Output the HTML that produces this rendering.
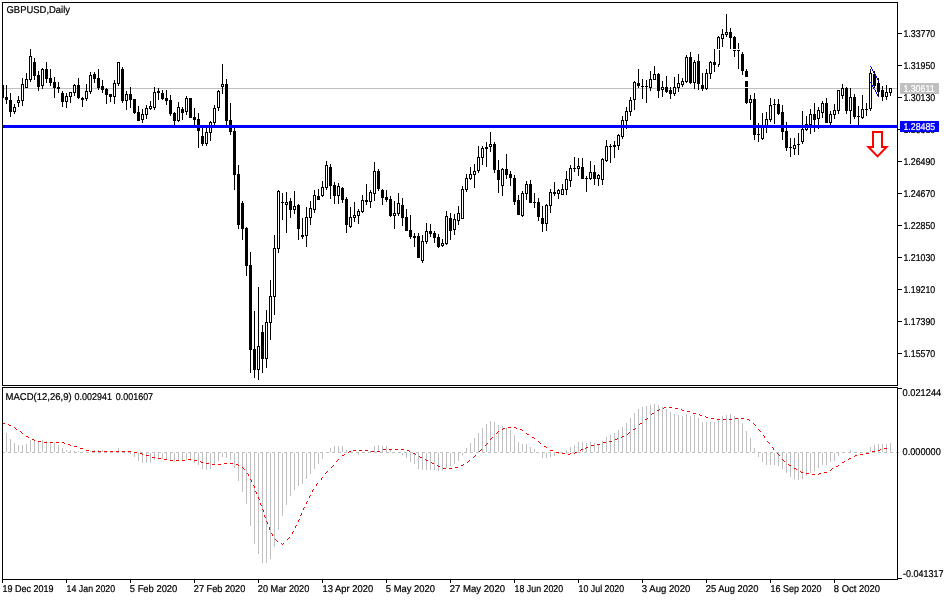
<!DOCTYPE html>
<html><head><meta charset="utf-8"><title>GBPUSD,Daily</title>
<style>
html,body{margin:0;padding:0;background:#fff;}
body{width:950px;height:600px;overflow:hidden;position:relative;font-family:"Liberation Sans",sans-serif;}
svg{position:absolute;left:0;top:0;display:block}
text{font-family:"Liberation Sans",sans-serif;font-size:9.9px;fill:#000;stroke:#000;stroke-width:0.22px;text-rendering:geometricPrecision}
</style></head><body>
<svg width="950" height="600" viewBox="0 0 950 600" shape-rendering="crispEdges">
<rect x="0" y="0" width="950" height="600" fill="#fff"/>
<rect x="3" y="88" width="894" height="1" fill="#c0c0c0"/><defs><clipPath id="cp"><rect x="3" y="3" width="894" height="382"/></clipPath></defs><g id="candles" clip-path="url(#cp)"><rect x="2" y="85" width="1" height="13" fill="#000"/><rect x="1" y="85" width="3" height="13" fill="#000"/><rect x="6" y="85" width="1" height="19" fill="#000"/><rect x="5" y="97" width="3" height="3" fill="#000"/><rect x="10" y="93" width="1" height="24" fill="#000"/><rect x="9" y="100" width="3" height="12" fill="#000"/><rect x="14" y="104" width="1" height="10" fill="#000"/><rect x="13" y="107" width="3" height="5" fill="#000"/><rect x="14" y="108" width="1" height="3" fill="#fff"/><rect x="18" y="96" width="1" height="11" fill="#000"/><rect x="17" y="100" width="3" height="3" fill="#000"/><rect x="18" y="101" width="1" height="1" fill="#fff"/><rect x="22" y="78" width="1" height="28" fill="#000"/><rect x="21" y="84" width="3" height="17" fill="#000"/><rect x="22" y="85" width="1" height="15" fill="#fff"/><rect x="26" y="73" width="1" height="15" fill="#000"/><rect x="25" y="79" width="3" height="9" fill="#000"/><rect x="26" y="80" width="1" height="7" fill="#fff"/><rect x="30" y="49" width="1" height="33" fill="#000"/><rect x="29" y="56" width="3" height="24" fill="#000"/><rect x="30" y="57" width="1" height="22" fill="#fff"/><rect x="34" y="58" width="1" height="22" fill="#000"/><rect x="33" y="62" width="3" height="14" fill="#000"/><rect x="38" y="71" width="1" height="20" fill="#000"/><rect x="37" y="75" width="3" height="12" fill="#000"/><rect x="42" y="68" width="1" height="21" fill="#000"/><rect x="41" y="69" width="3" height="17" fill="#000"/><rect x="42" y="70" width="1" height="15" fill="#fff"/><rect x="46" y="62" width="1" height="21" fill="#000"/><rect x="45" y="69" width="3" height="10" fill="#000"/><rect x="50" y="69" width="1" height="17" fill="#000"/><rect x="49" y="78" width="3" height="5" fill="#000"/><rect x="54" y="77" width="1" height="21" fill="#000"/><rect x="53" y="82" width="3" height="6" fill="#000"/><rect x="58" y="82" width="1" height="11" fill="#000"/><rect x="57" y="87" width="3" height="2" fill="#000"/><rect x="62" y="91" width="1" height="16" fill="#000"/><rect x="61" y="93" width="3" height="9" fill="#000"/><rect x="66" y="93" width="1" height="15" fill="#000"/><rect x="65" y="96" width="3" height="6" fill="#000"/><rect x="66" y="97" width="1" height="4" fill="#fff"/><rect x="70" y="92" width="1" height="11" fill="#000"/><rect x="69" y="92" width="3" height="5" fill="#000"/><rect x="70" y="93" width="1" height="3" fill="#fff"/><rect x="74" y="84" width="1" height="12" fill="#000"/><rect x="73" y="85" width="3" height="8" fill="#000"/><rect x="74" y="86" width="1" height="6" fill="#fff"/><rect x="78" y="78" width="1" height="21" fill="#000"/><rect x="77" y="85" width="3" height="13" fill="#000"/><rect x="82" y="97" width="1" height="10" fill="#000"/><rect x="81" y="98" width="3" height="2" fill="#000"/><rect x="86" y="84" width="1" height="17" fill="#000"/><rect x="85" y="91" width="3" height="8" fill="#000"/><rect x="86" y="92" width="1" height="6" fill="#fff"/><rect x="90" y="72" width="1" height="22" fill="#000"/><rect x="89" y="75" width="3" height="17" fill="#000"/><rect x="90" y="76" width="1" height="15" fill="#fff"/><rect x="94" y="72" width="1" height="11" fill="#000"/><rect x="93" y="74" width="3" height="5" fill="#000"/><rect x="98" y="69" width="1" height="21" fill="#000"/><rect x="97" y="78" width="3" height="10" fill="#000"/><rect x="102" y="80" width="1" height="13" fill="#000"/><rect x="101" y="86" width="3" height="4" fill="#000"/><rect x="106" y="88" width="1" height="16" fill="#000"/><rect x="105" y="89" width="3" height="6" fill="#000"/><rect x="110" y="94" width="1" height="8" fill="#000"/><rect x="109" y="94" width="3" height="3" fill="#000"/><rect x="114" y="80" width="1" height="24" fill="#000"/><rect x="113" y="83" width="3" height="14" fill="#000"/><rect x="114" y="84" width="1" height="12" fill="#fff"/><rect x="118" y="62" width="1" height="24" fill="#000"/><rect x="117" y="62" width="3" height="22" fill="#000"/><rect x="118" y="63" width="1" height="20" fill="#fff"/><rect x="122" y="67" width="1" height="36" fill="#000"/><rect x="121" y="69" width="3" height="32" fill="#000"/><rect x="126" y="91" width="1" height="19" fill="#000"/><rect x="125" y="94" width="3" height="7" fill="#000"/><rect x="126" y="95" width="1" height="5" fill="#fff"/><rect x="130" y="87" width="1" height="21" fill="#000"/><rect x="129" y="94" width="3" height="6" fill="#000"/><rect x="134" y="99" width="1" height="15" fill="#000"/><rect x="133" y="99" width="3" height="14" fill="#000"/><rect x="138" y="106" width="1" height="15" fill="#000"/><rect x="137" y="112" width="3" height="9" fill="#000"/><rect x="142" y="109" width="1" height="14" fill="#000"/><rect x="141" y="114" width="3" height="6" fill="#000"/><rect x="142" y="115" width="1" height="4" fill="#fff"/><rect x="146" y="105" width="1" height="14" fill="#000"/><rect x="145" y="108" width="3" height="7" fill="#000"/><rect x="146" y="109" width="1" height="5" fill="#fff"/><rect x="150" y="101" width="1" height="9" fill="#000"/><rect x="149" y="106" width="3" height="3" fill="#000"/><rect x="150" y="107" width="1" height="1" fill="#fff"/><rect x="154" y="87" width="1" height="23" fill="#000"/><rect x="153" y="92" width="3" height="16" fill="#000"/><rect x="154" y="93" width="1" height="14" fill="#fff"/><rect x="158" y="88" width="1" height="12" fill="#000"/><rect x="157" y="91" width="3" height="2" fill="#000"/><rect x="162" y="90" width="1" height="10" fill="#000"/><rect x="161" y="93" width="3" height="6" fill="#000"/><rect x="166" y="90" width="1" height="15" fill="#000"/><rect x="165" y="98" width="3" height="3" fill="#000"/><rect x="170" y="95" width="1" height="21" fill="#000"/><rect x="169" y="100" width="3" height="14" fill="#000"/><rect x="174" y="112" width="1" height="13" fill="#000"/><rect x="173" y="113" width="3" height="8" fill="#000"/><rect x="178" y="102" width="1" height="20" fill="#000"/><rect x="177" y="107" width="3" height="14" fill="#000"/><rect x="178" y="108" width="1" height="12" fill="#fff"/><rect x="182" y="107" width="1" height="13" fill="#000"/><rect x="181" y="109" width="3" height="4" fill="#000"/><rect x="186" y="96" width="1" height="19" fill="#000"/><rect x="185" y="98" width="3" height="14" fill="#000"/><rect x="186" y="99" width="1" height="12" fill="#fff"/><rect x="190" y="98" width="1" height="20" fill="#000"/><rect x="189" y="98" width="3" height="20" fill="#000"/><rect x="194" y="108" width="1" height="17" fill="#000"/><rect x="193" y="117" width="3" height="3" fill="#000"/><rect x="198" y="113" width="1" height="35" fill="#000"/><rect x="197" y="119" width="3" height="12" fill="#000"/><rect x="202" y="128" width="1" height="18" fill="#000"/><rect x="201" y="136" width="3" height="8" fill="#000"/><rect x="206" y="128" width="1" height="18" fill="#000"/><rect x="205" y="132" width="3" height="12" fill="#000"/><rect x="206" y="133" width="1" height="10" fill="#fff"/><rect x="210" y="121" width="1" height="20" fill="#000"/><rect x="209" y="122" width="3" height="11" fill="#000"/><rect x="210" y="123" width="1" height="9" fill="#fff"/><rect x="214" y="105" width="1" height="20" fill="#000"/><rect x="213" y="108" width="3" height="15" fill="#000"/><rect x="214" y="109" width="1" height="13" fill="#fff"/><rect x="218" y="90" width="1" height="21" fill="#000"/><rect x="217" y="91" width="3" height="17" fill="#000"/><rect x="218" y="92" width="1" height="15" fill="#fff"/><rect x="222" y="64" width="1" height="30" fill="#000"/><rect x="221" y="84" width="3" height="3" fill="#000"/><rect x="222" y="85" width="1" height="1" fill="#fff"/><rect x="226" y="79" width="1" height="46" fill="#000"/><rect x="225" y="84" width="3" height="37" fill="#000"/><rect x="230" y="103" width="1" height="32" fill="#000"/><rect x="229" y="120" width="3" height="12" fill="#000"/><rect x="234" y="125" width="1" height="65" fill="#000"/><rect x="233" y="131" width="3" height="44" fill="#000"/><rect x="238" y="165" width="1" height="64" fill="#000"/><rect x="237" y="174" width="3" height="51" fill="#000"/><rect x="242" y="201" width="1" height="39" fill="#000"/><rect x="241" y="203" width="3" height="26" fill="#000"/><rect x="246" y="227" width="1" height="49" fill="#000"/><rect x="245" y="228" width="3" height="38" fill="#000"/><rect x="250" y="252" width="1" height="121" fill="#000"/><rect x="249" y="265" width="3" height="85" fill="#000"/><rect x="254" y="311" width="1" height="67" fill="#000"/><rect x="253" y="349" width="3" height="21" fill="#000"/><rect x="258" y="287" width="1" height="93" fill="#000"/><rect x="257" y="346" width="3" height="24" fill="#000"/><rect x="258" y="347" width="1" height="22" fill="#fff"/><rect x="262" y="325" width="1" height="48" fill="#000"/><rect x="261" y="332" width="3" height="27" fill="#000"/><rect x="266" y="310" width="1" height="58" fill="#000"/><rect x="265" y="322" width="3" height="37" fill="#000"/><rect x="266" y="323" width="1" height="35" fill="#fff"/><rect x="270" y="280" width="1" height="60" fill="#000"/><rect x="269" y="296" width="3" height="27" fill="#000"/><rect x="270" y="297" width="1" height="25" fill="#fff"/><rect x="274" y="235" width="1" height="80" fill="#000"/><rect x="273" y="248" width="3" height="49" fill="#000"/><rect x="274" y="249" width="1" height="47" fill="#fff"/><rect x="278" y="190" width="1" height="63" fill="#000"/><rect x="277" y="191" width="3" height="58" fill="#000"/><rect x="278" y="192" width="1" height="56" fill="#fff"/><rect x="282" y="193" width="1" height="27" fill="#000"/><rect x="281" y="202" width="3" height="1" fill="#000"/><rect x="286" y="192" width="1" height="41" fill="#000"/><rect x="285" y="202" width="3" height="3" fill="#000"/><rect x="286" y="203" width="1" height="1" fill="#fff"/><rect x="290" y="198" width="1" height="20" fill="#000"/><rect x="289" y="201" width="3" height="9" fill="#000"/><rect x="294" y="191" width="1" height="23" fill="#000"/><rect x="293" y="206" width="3" height="4" fill="#000"/><rect x="294" y="207" width="1" height="2" fill="#fff"/><rect x="298" y="204" width="1" height="36" fill="#000"/><rect x="297" y="205" width="3" height="24" fill="#000"/><rect x="302" y="218" width="1" height="21" fill="#000"/><rect x="301" y="235" width="3" height="2" fill="#000"/><rect x="306" y="207" width="1" height="40" fill="#000"/><rect x="305" y="217" width="3" height="19" fill="#000"/><rect x="306" y="218" width="1" height="17" fill="#fff"/><rect x="310" y="201" width="1" height="24" fill="#000"/><rect x="309" y="208" width="3" height="10" fill="#000"/><rect x="310" y="209" width="1" height="8" fill="#fff"/><rect x="314" y="190" width="1" height="23" fill="#000"/><rect x="313" y="195" width="3" height="15" fill="#000"/><rect x="314" y="196" width="1" height="13" fill="#fff"/><rect x="318" y="189" width="1" height="11" fill="#000"/><rect x="317" y="196" width="3" height="4" fill="#000"/><rect x="322" y="181" width="1" height="16" fill="#000"/><rect x="321" y="187" width="3" height="9" fill="#000"/><rect x="322" y="188" width="1" height="7" fill="#fff"/><rect x="326" y="161" width="1" height="29" fill="#000"/><rect x="325" y="165" width="3" height="23" fill="#000"/><rect x="326" y="166" width="1" height="21" fill="#fff"/><rect x="330" y="164" width="1" height="35" fill="#000"/><rect x="329" y="167" width="3" height="19" fill="#000"/><rect x="334" y="182" width="1" height="22" fill="#000"/><rect x="333" y="185" width="3" height="11" fill="#000"/><rect x="338" y="183" width="1" height="21" fill="#000"/><rect x="337" y="186" width="3" height="10" fill="#000"/><rect x="338" y="187" width="1" height="8" fill="#fff"/><rect x="342" y="187" width="1" height="16" fill="#000"/><rect x="341" y="188" width="3" height="12" fill="#000"/><rect x="346" y="197" width="1" height="36" fill="#000"/><rect x="345" y="199" width="3" height="26" fill="#000"/><rect x="350" y="207" width="1" height="21" fill="#000"/><rect x="349" y="217" width="3" height="10" fill="#000"/><rect x="350" y="218" width="1" height="8" fill="#fff"/><rect x="354" y="202" width="1" height="20" fill="#000"/><rect x="353" y="215" width="3" height="3" fill="#000"/><rect x="354" y="216" width="1" height="1" fill="#fff"/><rect x="358" y="209" width="1" height="15" fill="#000"/><rect x="357" y="211" width="3" height="5" fill="#000"/><rect x="358" y="212" width="1" height="3" fill="#fff"/><rect x="362" y="195" width="1" height="18" fill="#000"/><rect x="361" y="200" width="3" height="12" fill="#000"/><rect x="362" y="201" width="1" height="10" fill="#fff"/><rect x="366" y="184" width="1" height="21" fill="#000"/><rect x="365" y="200" width="3" height="2" fill="#000"/><rect x="370" y="190" width="1" height="18" fill="#000"/><rect x="369" y="192" width="3" height="10" fill="#000"/><rect x="370" y="193" width="1" height="8" fill="#fff"/><rect x="374" y="162" width="1" height="39" fill="#000"/><rect x="373" y="171" width="3" height="23" fill="#000"/><rect x="374" y="172" width="1" height="21" fill="#fff"/><rect x="378" y="169" width="1" height="22" fill="#000"/><rect x="377" y="171" width="3" height="18" fill="#000"/><rect x="382" y="189" width="1" height="16" fill="#000"/><rect x="381" y="190" width="3" height="8" fill="#000"/><rect x="386" y="190" width="1" height="12" fill="#000"/><rect x="385" y="197" width="3" height="3" fill="#000"/><rect x="390" y="196" width="1" height="21" fill="#000"/><rect x="389" y="199" width="3" height="17" fill="#000"/><rect x="394" y="201" width="1" height="28" fill="#000"/><rect x="393" y="213" width="3" height="3" fill="#000"/><rect x="394" y="214" width="1" height="1" fill="#fff"/><rect x="398" y="193" width="1" height="23" fill="#000"/><rect x="397" y="203" width="3" height="11" fill="#000"/><rect x="398" y="204" width="1" height="9" fill="#fff"/><rect x="402" y="198" width="1" height="28" fill="#000"/><rect x="401" y="205" width="3" height="13" fill="#000"/><rect x="406" y="209" width="1" height="22" fill="#000"/><rect x="405" y="217" width="3" height="14" fill="#000"/><rect x="410" y="215" width="1" height="24" fill="#000"/><rect x="409" y="230" width="3" height="7" fill="#000"/><rect x="414" y="233" width="1" height="14" fill="#000"/><rect x="413" y="236" width="3" height="2" fill="#000"/><rect x="418" y="233" width="1" height="25" fill="#000"/><rect x="417" y="236" width="3" height="22" fill="#000"/><rect x="422" y="235" width="1" height="28" fill="#000"/><rect x="421" y="241" width="3" height="20" fill="#000"/><rect x="422" y="242" width="1" height="18" fill="#fff"/><rect x="426" y="223" width="1" height="21" fill="#000"/><rect x="425" y="231" width="3" height="11" fill="#000"/><rect x="426" y="232" width="1" height="9" fill="#fff"/><rect x="430" y="224" width="1" height="13" fill="#000"/><rect x="429" y="231" width="3" height="3" fill="#000"/><rect x="434" y="231" width="1" height="12" fill="#000"/><rect x="433" y="233" width="3" height="5" fill="#000"/><rect x="438" y="234" width="1" height="14" fill="#000"/><rect x="437" y="237" width="3" height="10" fill="#000"/><rect x="442" y="239" width="1" height="8" fill="#000"/><rect x="441" y="243" width="3" height="3" fill="#000"/><rect x="442" y="244" width="1" height="1" fill="#fff"/><rect x="446" y="211" width="1" height="34" fill="#000"/><rect x="445" y="216" width="3" height="28" fill="#000"/><rect x="446" y="217" width="1" height="26" fill="#fff"/><rect x="450" y="213" width="1" height="27" fill="#000"/><rect x="449" y="218" width="3" height="13" fill="#000"/><rect x="454" y="214" width="1" height="21" fill="#000"/><rect x="453" y="219" width="3" height="11" fill="#000"/><rect x="454" y="220" width="1" height="9" fill="#fff"/><rect x="458" y="206" width="1" height="19" fill="#000"/><rect x="457" y="213" width="3" height="8" fill="#000"/><rect x="458" y="214" width="1" height="6" fill="#fff"/><rect x="462" y="186" width="1" height="33" fill="#000"/><rect x="461" y="189" width="3" height="30" fill="#000"/><rect x="462" y="190" width="1" height="28" fill="#fff"/><rect x="466" y="174" width="1" height="18" fill="#000"/><rect x="465" y="178" width="3" height="12" fill="#000"/><rect x="466" y="179" width="1" height="10" fill="#fff"/><rect x="470" y="167" width="1" height="13" fill="#000"/><rect x="469" y="174" width="3" height="5" fill="#000"/><rect x="470" y="175" width="1" height="3" fill="#fff"/><rect x="474" y="164" width="1" height="24" fill="#000"/><rect x="473" y="171" width="3" height="4" fill="#000"/><rect x="474" y="172" width="1" height="2" fill="#fff"/><rect x="478" y="146" width="1" height="27" fill="#000"/><rect x="477" y="157" width="3" height="14" fill="#000"/><rect x="478" y="158" width="1" height="12" fill="#fff"/><rect x="482" y="146" width="1" height="19" fill="#000"/><rect x="481" y="148" width="3" height="10" fill="#000"/><rect x="482" y="149" width="1" height="8" fill="#fff"/><rect x="486" y="142" width="1" height="25" fill="#000"/><rect x="485" y="147" width="3" height="2" fill="#000"/><rect x="490" y="132" width="1" height="20" fill="#000"/><rect x="489" y="144" width="3" height="3" fill="#000"/><rect x="490" y="145" width="1" height="1" fill="#fff"/><rect x="494" y="142" width="1" height="31" fill="#000"/><rect x="493" y="144" width="3" height="26" fill="#000"/><rect x="498" y="160" width="1" height="33" fill="#000"/><rect x="497" y="170" width="3" height="10" fill="#000"/><rect x="502" y="168" width="1" height="28" fill="#000"/><rect x="501" y="169" width="3" height="17" fill="#000"/><rect x="502" y="170" width="1" height="15" fill="#fff"/><rect x="506" y="154" width="1" height="25" fill="#000"/><rect x="505" y="169" width="3" height="6" fill="#000"/><rect x="510" y="171" width="1" height="15" fill="#000"/><rect x="509" y="174" width="3" height="4" fill="#000"/><rect x="514" y="175" width="1" height="30" fill="#000"/><rect x="513" y="178" width="3" height="24" fill="#000"/><rect x="518" y="195" width="1" height="20" fill="#000"/><rect x="517" y="200" width="3" height="15" fill="#000"/><rect x="522" y="191" width="1" height="26" fill="#000"/><rect x="521" y="193" width="3" height="23" fill="#000"/><rect x="522" y="194" width="1" height="21" fill="#fff"/><rect x="526" y="181" width="1" height="19" fill="#000"/><rect x="525" y="184" width="3" height="10" fill="#000"/><rect x="526" y="185" width="1" height="8" fill="#fff"/><rect x="530" y="180" width="1" height="23" fill="#000"/><rect x="529" y="184" width="3" height="19" fill="#000"/><rect x="534" y="193" width="1" height="15" fill="#000"/><rect x="533" y="202" width="3" height="1" fill="#000"/><rect x="538" y="198" width="1" height="23" fill="#000"/><rect x="537" y="202" width="3" height="15" fill="#000"/><rect x="542" y="206" width="1" height="26" fill="#000"/><rect x="541" y="218" width="3" height="6" fill="#000"/><rect x="546" y="204" width="1" height="27" fill="#000"/><rect x="545" y="205" width="3" height="19" fill="#000"/><rect x="546" y="206" width="1" height="17" fill="#fff"/><rect x="550" y="189" width="1" height="24" fill="#000"/><rect x="549" y="192" width="3" height="14" fill="#000"/><rect x="550" y="193" width="1" height="12" fill="#fff"/><rect x="554" y="182" width="1" height="14" fill="#000"/><rect x="553" y="192" width="3" height="2" fill="#000"/><rect x="558" y="189" width="1" height="10" fill="#000"/><rect x="557" y="190" width="3" height="4" fill="#000"/><rect x="558" y="191" width="1" height="2" fill="#fff"/><rect x="562" y="184" width="1" height="11" fill="#000"/><rect x="561" y="189" width="3" height="6" fill="#000"/><rect x="562" y="190" width="1" height="4" fill="#fff"/><rect x="566" y="171" width="1" height="24" fill="#000"/><rect x="565" y="179" width="3" height="11" fill="#000"/><rect x="566" y="180" width="1" height="9" fill="#fff"/><rect x="570" y="165" width="1" height="22" fill="#000"/><rect x="569" y="168" width="3" height="13" fill="#000"/><rect x="570" y="169" width="1" height="11" fill="#fff"/><rect x="574" y="157" width="1" height="15" fill="#000"/><rect x="573" y="168" width="3" height="1" fill="#000"/><rect x="578" y="158" width="1" height="18" fill="#000"/><rect x="577" y="166" width="3" height="3" fill="#000"/><rect x="578" y="167" width="1" height="1" fill="#fff"/><rect x="582" y="158" width="1" height="21" fill="#000"/><rect x="581" y="167" width="3" height="12" fill="#000"/><rect x="586" y="176" width="1" height="16" fill="#000"/><rect x="585" y="178" width="3" height="1" fill="#000"/><rect x="590" y="161" width="1" height="19" fill="#000"/><rect x="589" y="172" width="3" height="7" fill="#000"/><rect x="590" y="173" width="1" height="5" fill="#fff"/><rect x="594" y="165" width="1" height="20" fill="#000"/><rect x="593" y="172" width="3" height="7" fill="#000"/><rect x="598" y="174" width="1" height="12" fill="#000"/><rect x="597" y="175" width="3" height="4" fill="#000"/><rect x="598" y="176" width="1" height="2" fill="#fff"/><rect x="602" y="158" width="1" height="27" fill="#000"/><rect x="601" y="159" width="3" height="21" fill="#000"/><rect x="602" y="160" width="1" height="19" fill="#fff"/><rect x="606" y="140" width="1" height="22" fill="#000"/><rect x="605" y="146" width="3" height="15" fill="#000"/><rect x="606" y="147" width="1" height="13" fill="#fff"/><rect x="610" y="144" width="1" height="19" fill="#000"/><rect x="609" y="146" width="3" height="1" fill="#000"/><rect x="614" y="141" width="1" height="17" fill="#000"/><rect x="613" y="145" width="3" height="2" fill="#000"/><rect x="618" y="134" width="1" height="16" fill="#000"/><rect x="617" y="135" width="3" height="11" fill="#000"/><rect x="618" y="136" width="1" height="9" fill="#fff"/><rect x="622" y="116" width="1" height="23" fill="#000"/><rect x="621" y="120" width="3" height="17" fill="#000"/><rect x="622" y="121" width="1" height="15" fill="#fff"/><rect x="626" y="107" width="1" height="22" fill="#000"/><rect x="625" y="111" width="3" height="10" fill="#000"/><rect x="626" y="112" width="1" height="8" fill="#fff"/><rect x="630" y="97" width="1" height="19" fill="#000"/><rect x="629" y="100" width="3" height="12" fill="#000"/><rect x="630" y="101" width="1" height="10" fill="#fff"/><rect x="634" y="81" width="1" height="29" fill="#000"/><rect x="633" y="82" width="3" height="18" fill="#000"/><rect x="634" y="83" width="1" height="16" fill="#fff"/><rect x="638" y="69" width="1" height="19" fill="#000"/><rect x="637" y="83" width="3" height="3" fill="#000"/><rect x="642" y="79" width="1" height="20" fill="#000"/><rect x="641" y="86" width="3" height="1" fill="#000"/><rect x="646" y="80" width="1" height="23" fill="#000"/><rect x="645" y="86" width="3" height="1" fill="#000"/><rect x="650" y="71" width="1" height="20" fill="#000"/><rect x="649" y="79" width="3" height="9" fill="#000"/><rect x="650" y="80" width="1" height="7" fill="#fff"/><rect x="654" y="66" width="1" height="14" fill="#000"/><rect x="653" y="74" width="3" height="6" fill="#000"/><rect x="654" y="75" width="1" height="4" fill="#fff"/><rect x="658" y="73" width="1" height="25" fill="#000"/><rect x="657" y="74" width="3" height="17" fill="#000"/><rect x="662" y="81" width="1" height="16" fill="#000"/><rect x="661" y="87" width="3" height="3" fill="#000"/><rect x="662" y="88" width="1" height="1" fill="#fff"/><rect x="666" y="76" width="1" height="17" fill="#000"/><rect x="665" y="87" width="3" height="5" fill="#000"/><rect x="670" y="87" width="1" height="12" fill="#000"/><rect x="669" y="90" width="3" height="4" fill="#000"/><rect x="674" y="77" width="1" height="19" fill="#000"/><rect x="673" y="87" width="3" height="7" fill="#000"/><rect x="674" y="88" width="1" height="5" fill="#fff"/><rect x="678" y="74" width="1" height="18" fill="#000"/><rect x="677" y="83" width="3" height="5" fill="#000"/><rect x="678" y="84" width="1" height="3" fill="#fff"/><rect x="682" y="78" width="1" height="9" fill="#000"/><rect x="681" y="81" width="3" height="4" fill="#000"/><rect x="682" y="82" width="1" height="2" fill="#fff"/><rect x="686" y="55" width="1" height="28" fill="#000"/><rect x="685" y="57" width="3" height="25" fill="#000"/><rect x="686" y="58" width="1" height="23" fill="#fff"/><rect x="690" y="52" width="1" height="32" fill="#000"/><rect x="689" y="57" width="3" height="26" fill="#000"/><rect x="694" y="60" width="1" height="29" fill="#000"/><rect x="693" y="62" width="3" height="21" fill="#000"/><rect x="694" y="63" width="1" height="19" fill="#fff"/><rect x="698" y="54" width="1" height="36" fill="#000"/><rect x="697" y="61" width="3" height="23" fill="#000"/><rect x="702" y="73" width="1" height="18" fill="#000"/><rect x="701" y="85" width="3" height="4" fill="#000"/><rect x="706" y="69" width="1" height="21" fill="#000"/><rect x="705" y="73" width="3" height="16" fill="#000"/><rect x="706" y="74" width="1" height="14" fill="#fff"/><rect x="710" y="61" width="1" height="18" fill="#000"/><rect x="709" y="62" width="3" height="12" fill="#000"/><rect x="710" y="63" width="1" height="10" fill="#fff"/><rect x="714" y="49" width="1" height="23" fill="#000"/><rect x="713" y="62" width="3" height="3" fill="#000"/><rect x="718" y="36" width="1" height="31" fill="#000"/><rect x="717" y="37" width="3" height="28" fill="#000"/><rect x="718" y="38" width="1" height="26" fill="#fff"/><rect x="722" y="29" width="1" height="18" fill="#000"/><rect x="721" y="34" width="3" height="5" fill="#000"/><rect x="722" y="35" width="1" height="3" fill="#fff"/><rect x="726" y="14" width="1" height="23" fill="#000"/><rect x="725" y="32" width="3" height="3" fill="#000"/><rect x="726" y="33" width="1" height="1" fill="#fff"/><rect x="730" y="28" width="1" height="21" fill="#000"/><rect x="729" y="32" width="3" height="6" fill="#000"/><rect x="734" y="36" width="1" height="21" fill="#000"/><rect x="733" y="37" width="3" height="14" fill="#000"/><rect x="738" y="43" width="1" height="26" fill="#000"/><rect x="737" y="49" width="3" height="2" fill="#000"/><rect x="742" y="52" width="1" height="23" fill="#000"/><rect x="741" y="54" width="3" height="17" fill="#000"/><rect x="746" y="69" width="1" height="35" fill="#000"/><rect x="745" y="71" width="3" height="32" fill="#000"/><rect x="750" y="95" width="1" height="25" fill="#000"/><rect x="749" y="99" width="3" height="4" fill="#000"/><rect x="750" y="100" width="1" height="2" fill="#fff"/><rect x="754" y="93" width="1" height="47" fill="#000"/><rect x="753" y="99" width="3" height="36" fill="#000"/><rect x="758" y="123" width="1" height="19" fill="#000"/><rect x="757" y="134" width="3" height="1" fill="#000"/><rect x="762" y="113" width="1" height="27" fill="#000"/><rect x="761" y="126" width="3" height="13" fill="#000"/><rect x="762" y="127" width="1" height="11" fill="#fff"/><rect x="766" y="112" width="1" height="21" fill="#000"/><rect x="765" y="119" width="3" height="8" fill="#000"/><rect x="766" y="120" width="1" height="6" fill="#fff"/><rect x="770" y="98" width="1" height="24" fill="#000"/><rect x="769" y="105" width="3" height="15" fill="#000"/><rect x="770" y="106" width="1" height="13" fill="#fff"/><rect x="774" y="99" width="1" height="25" fill="#000"/><rect x="773" y="104" width="3" height="1" fill="#000"/><rect x="778" y="99" width="1" height="16" fill="#000"/><rect x="777" y="104" width="3" height="10" fill="#000"/><rect x="782" y="105" width="1" height="35" fill="#000"/><rect x="781" y="112" width="3" height="20" fill="#000"/><rect x="786" y="122" width="1" height="29" fill="#000"/><rect x="785" y="131" width="3" height="17" fill="#000"/><rect x="790" y="138" width="1" height="19" fill="#000"/><rect x="789" y="147" width="3" height="1" fill="#000"/><rect x="794" y="138" width="1" height="17" fill="#000"/><rect x="793" y="145" width="3" height="4" fill="#000"/><rect x="794" y="146" width="1" height="2" fill="#fff"/><rect x="798" y="133" width="1" height="22" fill="#000"/><rect x="797" y="144" width="3" height="1" fill="#000"/><rect x="802" y="111" width="1" height="33" fill="#000"/><rect x="801" y="129" width="3" height="13" fill="#000"/><rect x="802" y="130" width="1" height="11" fill="#fff"/><rect x="806" y="116" width="1" height="15" fill="#000"/><rect x="805" y="124" width="3" height="6" fill="#000"/><rect x="806" y="125" width="1" height="4" fill="#fff"/><rect x="810" y="109" width="1" height="25" fill="#000"/><rect x="809" y="114" width="3" height="11" fill="#000"/><rect x="810" y="115" width="1" height="9" fill="#fff"/><rect x="814" y="103" width="1" height="29" fill="#000"/><rect x="813" y="114" width="3" height="6" fill="#000"/><rect x="818" y="107" width="1" height="22" fill="#000"/><rect x="817" y="110" width="3" height="9" fill="#000"/><rect x="818" y="111" width="1" height="7" fill="#fff"/><rect x="822" y="101" width="1" height="17" fill="#000"/><rect x="821" y="103" width="3" height="10" fill="#000"/><rect x="822" y="104" width="1" height="8" fill="#fff"/><rect x="826" y="98" width="1" height="25" fill="#000"/><rect x="825" y="103" width="3" height="20" fill="#000"/><rect x="830" y="111" width="1" height="14" fill="#000"/><rect x="829" y="114" width="3" height="9" fill="#000"/><rect x="830" y="115" width="1" height="7" fill="#fff"/><rect x="834" y="104" width="1" height="15" fill="#000"/><rect x="833" y="110" width="3" height="5" fill="#000"/><rect x="834" y="111" width="1" height="3" fill="#fff"/><rect x="838" y="90" width="1" height="24" fill="#000"/><rect x="837" y="90" width="3" height="21" fill="#000"/><rect x="838" y="91" width="1" height="19" fill="#fff"/><rect x="842" y="84" width="1" height="15" fill="#000"/><rect x="841" y="88" width="3" height="8" fill="#000"/><rect x="842" y="89" width="1" height="6" fill="#fff"/><rect x="846" y="87" width="1" height="27" fill="#000"/><rect x="845" y="88" width="3" height="23" fill="#000"/><rect x="850" y="88" width="1" height="36" fill="#000"/><rect x="849" y="97" width="3" height="14" fill="#000"/><rect x="850" y="98" width="1" height="12" fill="#fff"/><rect x="854" y="94" width="1" height="25" fill="#000"/><rect x="853" y="97" width="3" height="20" fill="#000"/><rect x="858" y="106" width="1" height="19" fill="#000"/><rect x="857" y="116" width="3" height="1" fill="#000"/><rect x="862" y="95" width="1" height="24" fill="#000"/><rect x="861" y="109" width="3" height="9" fill="#000"/><rect x="862" y="110" width="1" height="7" fill="#fff"/><rect x="866" y="103" width="1" height="13" fill="#000"/><rect x="865" y="109" width="3" height="1" fill="#000"/><rect x="870" y="69" width="1" height="42" fill="#000"/><rect x="869" y="73" width="3" height="36" fill="#000"/><rect x="870" y="74" width="1" height="34" fill="#fff"/><rect x="874" y="71" width="1" height="17" fill="#000"/><rect x="873" y="74" width="3" height="12" fill="#000"/><rect x="878" y="78" width="1" height="18" fill="#000"/><rect x="877" y="83" width="3" height="9" fill="#000"/><rect x="882" y="86" width="1" height="15" fill="#000"/><rect x="881" y="90" width="3" height="7" fill="#000"/><rect x="886" y="85" width="1" height="15" fill="#000"/><rect x="885" y="92" width="3" height="5" fill="#000"/><rect x="886" y="93" width="1" height="3" fill="#fff"/><rect x="890" y="88" width="1" height="8" fill="#000"/><rect x="889" y="88" width="3" height="5" fill="#000"/><rect x="890" y="89" width="1" height="3" fill="#fff"/></g>
<g fill="#fff"><rect x="717" y="49" width="24" height="1"/><rect x="717" y="49" width="1" height="16"/><rect x="745" y="77" width="3" height="4"/><rect x="745" y="87" width="3" height="1"/></g>
<g fill="#0000ff"><rect x="870" y="66" width="1" height="1"/><rect x="871" y="67" width="1" height="1"/><rect x="871" y="68" width="1" height="1"/><rect x="872" y="69" width="1" height="1"/><rect x="872" y="70" width="1" height="1"/><rect x="873" y="71" width="1" height="1"/><rect x="873" y="72" width="1" height="1"/><rect x="874" y="73" width="1" height="1"/><rect x="875" y="74" width="1" height="1"/><rect x="875" y="75" width="1" height="1"/><rect x="876" y="76" width="1" height="1"/><rect x="876" y="77" width="1" height="1"/><rect x="877" y="78" width="1" height="1"/><rect x="877" y="79" width="1" height="1"/><rect x="878" y="80" width="1" height="1"/><rect x="870" y="82" width="1" height="1"/><rect x="871" y="83" width="1" height="1"/><rect x="871" y="84" width="1" height="1"/><rect x="872" y="85" width="1" height="1"/><rect x="872" y="86" width="1" height="1"/><rect x="873" y="87" width="1" height="1"/><rect x="873" y="88" width="1" height="1"/><rect x="874" y="89" width="1" height="1"/><rect x="875" y="90" width="1" height="1"/><rect x="875" y="91" width="1" height="1"/><rect x="876" y="92" width="1" height="1"/><rect x="876" y="93" width="1" height="1"/><rect x="877" y="94" width="1" height="1"/><rect x="877" y="95" width="1" height="1"/><rect x="878" y="96" width="1" height="1"/></g>
<rect x="3" y="125" width="894" height="3" fill="#0000ff"/>
<g id="hist" fill="#c0c0c0"><rect x="3" y="452" width="1" height="1"/><rect x="4" y="452" width="1" height="1"/><rect x="8" y="452" width="1" height="1"/><rect x="9" y="452" width="1" height="1"/><rect x="10" y="452" width="1" height="1"/><rect x="14" y="452" width="1" height="1"/><rect x="15" y="452" width="1" height="1"/><rect x="16" y="452" width="1" height="1"/><rect x="20" y="452" width="1" height="1"/><rect x="21" y="452" width="1" height="1"/><rect x="22" y="452" width="1" height="1"/><rect x="26" y="452" width="1" height="1"/><rect x="27" y="452" width="1" height="1"/><rect x="28" y="452" width="1" height="1"/><rect x="32" y="452" width="1" height="1"/><rect x="33" y="452" width="1" height="1"/><rect x="34" y="452" width="1" height="1"/><rect x="38" y="452" width="1" height="1"/><rect x="39" y="452" width="1" height="1"/><rect x="40" y="452" width="1" height="1"/><rect x="44" y="452" width="1" height="1"/><rect x="45" y="452" width="1" height="1"/><rect x="46" y="452" width="1" height="1"/><rect x="50" y="452" width="1" height="1"/><rect x="51" y="452" width="1" height="1"/><rect x="52" y="452" width="1" height="1"/><rect x="56" y="452" width="1" height="1"/><rect x="57" y="452" width="1" height="1"/><rect x="58" y="452" width="1" height="1"/><rect x="62" y="452" width="1" height="1"/><rect x="63" y="452" width="1" height="1"/><rect x="64" y="452" width="1" height="1"/><rect x="68" y="452" width="1" height="1"/><rect x="69" y="452" width="1" height="1"/><rect x="70" y="452" width="1" height="1"/><rect x="74" y="452" width="1" height="1"/><rect x="75" y="452" width="1" height="1"/><rect x="76" y="452" width="1" height="1"/><rect x="80" y="452" width="1" height="1"/><rect x="81" y="452" width="1" height="1"/><rect x="82" y="452" width="1" height="1"/><rect x="86" y="452" width="1" height="1"/><rect x="87" y="452" width="1" height="1"/><rect x="88" y="452" width="1" height="1"/><rect x="92" y="452" width="1" height="1"/><rect x="93" y="452" width="1" height="1"/><rect x="94" y="452" width="1" height="1"/><rect x="98" y="452" width="1" height="1"/><rect x="99" y="452" width="1" height="1"/><rect x="100" y="452" width="1" height="1"/><rect x="104" y="452" width="1" height="1"/><rect x="105" y="452" width="1" height="1"/><rect x="106" y="452" width="1" height="1"/><rect x="110" y="452" width="1" height="1"/><rect x="111" y="452" width="1" height="1"/><rect x="112" y="452" width="1" height="1"/><rect x="116" y="452" width="1" height="1"/><rect x="117" y="452" width="1" height="1"/><rect x="118" y="452" width="1" height="1"/><rect x="122" y="452" width="1" height="1"/><rect x="123" y="452" width="1" height="1"/><rect x="124" y="452" width="1" height="1"/><rect x="128" y="452" width="1" height="1"/><rect x="129" y="452" width="1" height="1"/><rect x="130" y="452" width="1" height="1"/><rect x="134" y="452" width="1" height="1"/><rect x="135" y="452" width="1" height="1"/><rect x="136" y="452" width="1" height="1"/><rect x="140" y="452" width="1" height="1"/><rect x="141" y="452" width="1" height="1"/><rect x="142" y="452" width="1" height="1"/><rect x="146" y="452" width="1" height="1"/><rect x="147" y="452" width="1" height="1"/><rect x="148" y="452" width="1" height="1"/><rect x="152" y="452" width="1" height="1"/><rect x="153" y="452" width="1" height="1"/><rect x="154" y="452" width="1" height="1"/><rect x="158" y="452" width="1" height="1"/><rect x="159" y="452" width="1" height="1"/><rect x="160" y="452" width="1" height="1"/><rect x="164" y="452" width="1" height="1"/><rect x="165" y="452" width="1" height="1"/><rect x="166" y="452" width="1" height="1"/><rect x="170" y="452" width="1" height="1"/><rect x="171" y="452" width="1" height="1"/><rect x="172" y="452" width="1" height="1"/><rect x="176" y="452" width="1" height="1"/><rect x="177" y="452" width="1" height="1"/><rect x="178" y="452" width="1" height="1"/><rect x="182" y="452" width="1" height="1"/><rect x="183" y="452" width="1" height="1"/><rect x="184" y="452" width="1" height="1"/><rect x="188" y="452" width="1" height="1"/><rect x="189" y="452" width="1" height="1"/><rect x="190" y="452" width="1" height="1"/><rect x="194" y="452" width="1" height="1"/><rect x="195" y="452" width="1" height="1"/><rect x="196" y="452" width="1" height="1"/><rect x="200" y="452" width="1" height="1"/><rect x="201" y="452" width="1" height="1"/><rect x="202" y="452" width="1" height="1"/><rect x="206" y="452" width="1" height="1"/><rect x="207" y="452" width="1" height="1"/><rect x="208" y="452" width="1" height="1"/><rect x="212" y="452" width="1" height="1"/><rect x="213" y="452" width="1" height="1"/><rect x="214" y="452" width="1" height="1"/><rect x="218" y="452" width="1" height="1"/><rect x="219" y="452" width="1" height="1"/><rect x="220" y="452" width="1" height="1"/><rect x="224" y="452" width="1" height="1"/><rect x="225" y="452" width="1" height="1"/><rect x="226" y="452" width="1" height="1"/><rect x="230" y="452" width="1" height="1"/><rect x="231" y="452" width="1" height="1"/><rect x="232" y="452" width="1" height="1"/><rect x="236" y="452" width="1" height="1"/><rect x="237" y="452" width="1" height="1"/><rect x="238" y="452" width="1" height="1"/><rect x="242" y="452" width="1" height="1"/><rect x="243" y="452" width="1" height="1"/><rect x="244" y="452" width="1" height="1"/><rect x="248" y="452" width="1" height="1"/><rect x="249" y="452" width="1" height="1"/><rect x="250" y="452" width="1" height="1"/><rect x="254" y="452" width="1" height="1"/><rect x="255" y="452" width="1" height="1"/><rect x="256" y="452" width="1" height="1"/><rect x="260" y="452" width="1" height="1"/><rect x="261" y="452" width="1" height="1"/><rect x="262" y="452" width="1" height="1"/><rect x="266" y="452" width="1" height="1"/><rect x="267" y="452" width="1" height="1"/><rect x="268" y="452" width="1" height="1"/><rect x="272" y="452" width="1" height="1"/><rect x="273" y="452" width="1" height="1"/><rect x="274" y="452" width="1" height="1"/><rect x="278" y="452" width="1" height="1"/><rect x="279" y="452" width="1" height="1"/><rect x="280" y="452" width="1" height="1"/><rect x="284" y="452" width="1" height="1"/><rect x="285" y="452" width="1" height="1"/><rect x="286" y="452" width="1" height="1"/><rect x="290" y="452" width="1" height="1"/><rect x="291" y="452" width="1" height="1"/><rect x="292" y="452" width="1" height="1"/><rect x="296" y="452" width="1" height="1"/><rect x="297" y="452" width="1" height="1"/><rect x="298" y="452" width="1" height="1"/><rect x="302" y="452" width="1" height="1"/><rect x="303" y="452" width="1" height="1"/><rect x="304" y="452" width="1" height="1"/><rect x="308" y="452" width="1" height="1"/><rect x="309" y="452" width="1" height="1"/><rect x="310" y="452" width="1" height="1"/><rect x="314" y="452" width="1" height="1"/><rect x="315" y="452" width="1" height="1"/><rect x="316" y="452" width="1" height="1"/><rect x="320" y="452" width="1" height="1"/><rect x="321" y="452" width="1" height="1"/><rect x="322" y="452" width="1" height="1"/><rect x="326" y="452" width="1" height="1"/><rect x="327" y="452" width="1" height="1"/><rect x="328" y="452" width="1" height="1"/><rect x="332" y="452" width="1" height="1"/><rect x="333" y="452" width="1" height="1"/><rect x="334" y="452" width="1" height="1"/><rect x="338" y="452" width="1" height="1"/><rect x="339" y="452" width="1" height="1"/><rect x="340" y="452" width="1" height="1"/><rect x="344" y="452" width="1" height="1"/><rect x="345" y="452" width="1" height="1"/><rect x="346" y="452" width="1" height="1"/><rect x="350" y="452" width="1" height="1"/><rect x="351" y="452" width="1" height="1"/><rect x="352" y="452" width="1" height="1"/><rect x="356" y="452" width="1" height="1"/><rect x="357" y="452" width="1" height="1"/><rect x="358" y="452" width="1" height="1"/><rect x="362" y="452" width="1" height="1"/><rect x="363" y="452" width="1" height="1"/><rect x="364" y="452" width="1" height="1"/><rect x="368" y="452" width="1" height="1"/><rect x="369" y="452" width="1" height="1"/><rect x="370" y="452" width="1" height="1"/><rect x="374" y="452" width="1" height="1"/><rect x="375" y="452" width="1" height="1"/><rect x="376" y="452" width="1" height="1"/><rect x="380" y="452" width="1" height="1"/><rect x="381" y="452" width="1" height="1"/><rect x="382" y="452" width="1" height="1"/><rect x="386" y="452" width="1" height="1"/><rect x="387" y="452" width="1" height="1"/><rect x="388" y="452" width="1" height="1"/><rect x="392" y="452" width="1" height="1"/><rect x="393" y="452" width="1" height="1"/><rect x="394" y="452" width="1" height="1"/><rect x="398" y="452" width="1" height="1"/><rect x="399" y="452" width="1" height="1"/><rect x="400" y="452" width="1" height="1"/><rect x="404" y="452" width="1" height="1"/><rect x="405" y="452" width="1" height="1"/><rect x="406" y="452" width="1" height="1"/><rect x="410" y="452" width="1" height="1"/><rect x="411" y="452" width="1" height="1"/><rect x="412" y="452" width="1" height="1"/><rect x="416" y="452" width="1" height="1"/><rect x="417" y="452" width="1" height="1"/><rect x="418" y="452" width="1" height="1"/><rect x="422" y="452" width="1" height="1"/><rect x="423" y="452" width="1" height="1"/><rect x="424" y="452" width="1" height="1"/><rect x="428" y="452" width="1" height="1"/><rect x="429" y="452" width="1" height="1"/><rect x="430" y="452" width="1" height="1"/><rect x="434" y="452" width="1" height="1"/><rect x="435" y="452" width="1" height="1"/><rect x="436" y="452" width="1" height="1"/><rect x="440" y="452" width="1" height="1"/><rect x="441" y="452" width="1" height="1"/><rect x="442" y="452" width="1" height="1"/><rect x="446" y="452" width="1" height="1"/><rect x="447" y="452" width="1" height="1"/><rect x="448" y="452" width="1" height="1"/><rect x="452" y="452" width="1" height="1"/><rect x="453" y="452" width="1" height="1"/><rect x="454" y="452" width="1" height="1"/><rect x="458" y="452" width="1" height="1"/><rect x="459" y="452" width="1" height="1"/><rect x="460" y="452" width="1" height="1"/><rect x="464" y="452" width="1" height="1"/><rect x="465" y="452" width="1" height="1"/><rect x="466" y="452" width="1" height="1"/><rect x="470" y="452" width="1" height="1"/><rect x="471" y="452" width="1" height="1"/><rect x="472" y="452" width="1" height="1"/><rect x="476" y="452" width="1" height="1"/><rect x="477" y="452" width="1" height="1"/><rect x="478" y="452" width="1" height="1"/><rect x="482" y="452" width="1" height="1"/><rect x="483" y="452" width="1" height="1"/><rect x="484" y="452" width="1" height="1"/><rect x="488" y="452" width="1" height="1"/><rect x="489" y="452" width="1" height="1"/><rect x="490" y="452" width="1" height="1"/><rect x="494" y="452" width="1" height="1"/><rect x="495" y="452" width="1" height="1"/><rect x="496" y="452" width="1" height="1"/><rect x="500" y="452" width="1" height="1"/><rect x="501" y="452" width="1" height="1"/><rect x="502" y="452" width="1" height="1"/><rect x="506" y="452" width="1" height="1"/><rect x="507" y="452" width="1" height="1"/><rect x="508" y="452" width="1" height="1"/><rect x="512" y="452" width="1" height="1"/><rect x="513" y="452" width="1" height="1"/><rect x="514" y="452" width="1" height="1"/><rect x="518" y="452" width="1" height="1"/><rect x="519" y="452" width="1" height="1"/><rect x="520" y="452" width="1" height="1"/><rect x="524" y="452" width="1" height="1"/><rect x="525" y="452" width="1" height="1"/><rect x="526" y="452" width="1" height="1"/><rect x="530" y="452" width="1" height="1"/><rect x="531" y="452" width="1" height="1"/><rect x="532" y="452" width="1" height="1"/><rect x="536" y="452" width="1" height="1"/><rect x="537" y="452" width="1" height="1"/><rect x="538" y="452" width="1" height="1"/><rect x="542" y="452" width="1" height="1"/><rect x="543" y="452" width="1" height="1"/><rect x="544" y="452" width="1" height="1"/><rect x="548" y="452" width="1" height="1"/><rect x="549" y="452" width="1" height="1"/><rect x="550" y="452" width="1" height="1"/><rect x="554" y="452" width="1" height="1"/><rect x="555" y="452" width="1" height="1"/><rect x="556" y="452" width="1" height="1"/><rect x="560" y="452" width="1" height="1"/><rect x="561" y="452" width="1" height="1"/><rect x="562" y="452" width="1" height="1"/><rect x="566" y="452" width="1" height="1"/><rect x="567" y="452" width="1" height="1"/><rect x="568" y="452" width="1" height="1"/><rect x="572" y="452" width="1" height="1"/><rect x="573" y="452" width="1" height="1"/><rect x="574" y="452" width="1" height="1"/><rect x="578" y="452" width="1" height="1"/><rect x="579" y="452" width="1" height="1"/><rect x="580" y="452" width="1" height="1"/><rect x="584" y="452" width="1" height="1"/><rect x="585" y="452" width="1" height="1"/><rect x="586" y="452" width="1" height="1"/><rect x="590" y="452" width="1" height="1"/><rect x="591" y="452" width="1" height="1"/><rect x="592" y="452" width="1" height="1"/><rect x="596" y="452" width="1" height="1"/><rect x="597" y="452" width="1" height="1"/><rect x="598" y="452" width="1" height="1"/><rect x="602" y="452" width="1" height="1"/><rect x="603" y="452" width="1" height="1"/><rect x="604" y="452" width="1" height="1"/><rect x="608" y="452" width="1" height="1"/><rect x="609" y="452" width="1" height="1"/><rect x="610" y="452" width="1" height="1"/><rect x="614" y="452" width="1" height="1"/><rect x="615" y="452" width="1" height="1"/><rect x="616" y="452" width="1" height="1"/><rect x="620" y="452" width="1" height="1"/><rect x="621" y="452" width="1" height="1"/><rect x="622" y="452" width="1" height="1"/><rect x="626" y="452" width="1" height="1"/><rect x="627" y="452" width="1" height="1"/><rect x="628" y="452" width="1" height="1"/><rect x="632" y="452" width="1" height="1"/><rect x="633" y="452" width="1" height="1"/><rect x="634" y="452" width="1" height="1"/><rect x="638" y="452" width="1" height="1"/><rect x="639" y="452" width="1" height="1"/><rect x="640" y="452" width="1" height="1"/><rect x="644" y="452" width="1" height="1"/><rect x="645" y="452" width="1" height="1"/><rect x="646" y="452" width="1" height="1"/><rect x="650" y="452" width="1" height="1"/><rect x="651" y="452" width="1" height="1"/><rect x="652" y="452" width="1" height="1"/><rect x="656" y="452" width="1" height="1"/><rect x="657" y="452" width="1" height="1"/><rect x="658" y="452" width="1" height="1"/><rect x="662" y="452" width="1" height="1"/><rect x="663" y="452" width="1" height="1"/><rect x="664" y="452" width="1" height="1"/><rect x="668" y="452" width="1" height="1"/><rect x="669" y="452" width="1" height="1"/><rect x="670" y="452" width="1" height="1"/><rect x="674" y="452" width="1" height="1"/><rect x="675" y="452" width="1" height="1"/><rect x="676" y="452" width="1" height="1"/><rect x="680" y="452" width="1" height="1"/><rect x="681" y="452" width="1" height="1"/><rect x="682" y="452" width="1" height="1"/><rect x="686" y="452" width="1" height="1"/><rect x="687" y="452" width="1" height="1"/><rect x="688" y="452" width="1" height="1"/><rect x="692" y="452" width="1" height="1"/><rect x="693" y="452" width="1" height="1"/><rect x="694" y="452" width="1" height="1"/><rect x="698" y="452" width="1" height="1"/><rect x="699" y="452" width="1" height="1"/><rect x="700" y="452" width="1" height="1"/><rect x="704" y="452" width="1" height="1"/><rect x="705" y="452" width="1" height="1"/><rect x="706" y="452" width="1" height="1"/><rect x="710" y="452" width="1" height="1"/><rect x="711" y="452" width="1" height="1"/><rect x="712" y="452" width="1" height="1"/><rect x="716" y="452" width="1" height="1"/><rect x="717" y="452" width="1" height="1"/><rect x="718" y="452" width="1" height="1"/><rect x="722" y="452" width="1" height="1"/><rect x="723" y="452" width="1" height="1"/><rect x="724" y="452" width="1" height="1"/><rect x="728" y="452" width="1" height="1"/><rect x="729" y="452" width="1" height="1"/><rect x="730" y="452" width="1" height="1"/><rect x="734" y="452" width="1" height="1"/><rect x="735" y="452" width="1" height="1"/><rect x="736" y="452" width="1" height="1"/><rect x="740" y="452" width="1" height="1"/><rect x="741" y="452" width="1" height="1"/><rect x="742" y="452" width="1" height="1"/><rect x="746" y="452" width="1" height="1"/><rect x="747" y="452" width="1" height="1"/><rect x="748" y="452" width="1" height="1"/><rect x="752" y="452" width="1" height="1"/><rect x="753" y="452" width="1" height="1"/><rect x="754" y="452" width="1" height="1"/><rect x="758" y="452" width="1" height="1"/><rect x="759" y="452" width="1" height="1"/><rect x="760" y="452" width="1" height="1"/><rect x="764" y="452" width="1" height="1"/><rect x="765" y="452" width="1" height="1"/><rect x="766" y="452" width="1" height="1"/><rect x="770" y="452" width="1" height="1"/><rect x="771" y="452" width="1" height="1"/><rect x="772" y="452" width="1" height="1"/><rect x="776" y="452" width="1" height="1"/><rect x="777" y="452" width="1" height="1"/><rect x="778" y="452" width="1" height="1"/><rect x="782" y="452" width="1" height="1"/><rect x="783" y="452" width="1" height="1"/><rect x="784" y="452" width="1" height="1"/><rect x="788" y="452" width="1" height="1"/><rect x="789" y="452" width="1" height="1"/><rect x="790" y="452" width="1" height="1"/><rect x="794" y="452" width="1" height="1"/><rect x="795" y="452" width="1" height="1"/><rect x="796" y="452" width="1" height="1"/><rect x="800" y="452" width="1" height="1"/><rect x="801" y="452" width="1" height="1"/><rect x="802" y="452" width="1" height="1"/><rect x="806" y="452" width="1" height="1"/><rect x="807" y="452" width="1" height="1"/><rect x="808" y="452" width="1" height="1"/><rect x="812" y="452" width="1" height="1"/><rect x="813" y="452" width="1" height="1"/><rect x="814" y="452" width="1" height="1"/><rect x="818" y="452" width="1" height="1"/><rect x="819" y="452" width="1" height="1"/><rect x="820" y="452" width="1" height="1"/><rect x="824" y="452" width="1" height="1"/><rect x="825" y="452" width="1" height="1"/><rect x="826" y="452" width="1" height="1"/><rect x="830" y="452" width="1" height="1"/><rect x="831" y="452" width="1" height="1"/><rect x="832" y="452" width="1" height="1"/><rect x="836" y="452" width="1" height="1"/><rect x="837" y="452" width="1" height="1"/><rect x="838" y="452" width="1" height="1"/><rect x="842" y="452" width="1" height="1"/><rect x="843" y="452" width="1" height="1"/><rect x="844" y="452" width="1" height="1"/><rect x="848" y="452" width="1" height="1"/><rect x="849" y="452" width="1" height="1"/><rect x="850" y="452" width="1" height="1"/><rect x="854" y="452" width="1" height="1"/><rect x="855" y="452" width="1" height="1"/><rect x="856" y="452" width="1" height="1"/><rect x="860" y="452" width="1" height="1"/><rect x="861" y="452" width="1" height="1"/><rect x="862" y="452" width="1" height="1"/><rect x="866" y="452" width="1" height="1"/><rect x="867" y="452" width="1" height="1"/><rect x="868" y="452" width="1" height="1"/><rect x="872" y="452" width="1" height="1"/><rect x="873" y="452" width="1" height="1"/><rect x="874" y="452" width="1" height="1"/><rect x="878" y="452" width="1" height="1"/><rect x="879" y="452" width="1" height="1"/><rect x="880" y="452" width="1" height="1"/><rect x="884" y="452" width="1" height="1"/><rect x="885" y="452" width="1" height="1"/><rect x="886" y="452" width="1" height="1"/><rect x="890" y="452" width="1" height="1"/><rect x="891" y="452" width="1" height="1"/><rect x="892" y="452" width="1" height="1"/><rect x="896" y="452" width="1" height="1"/><rect x="897" y="452" width="1" height="1"/><rect x="898" y="452" width="1" height="1"/><rect x="6" y="433" width="1" height="19"/><rect x="10" y="439" width="1" height="13"/><rect x="14" y="443" width="1" height="9"/><rect x="18" y="445" width="1" height="7"/><rect x="22" y="445" width="1" height="7"/><rect x="26" y="444" width="1" height="8"/><rect x="30" y="440" width="1" height="12"/><rect x="34" y="441" width="1" height="11"/><rect x="38" y="442" width="1" height="10"/><rect x="42" y="440" width="1" height="12"/><rect x="46" y="441" width="1" height="11"/><rect x="50" y="443" width="1" height="9"/><rect x="54" y="443" width="1" height="9"/><rect x="58" y="445" width="1" height="7"/><rect x="62" y="448" width="1" height="4"/><rect x="66" y="450" width="1" height="2"/><rect x="70" y="450" width="1" height="2"/><rect x="74" y="451" width="1" height="1"/><rect x="78" y="451" width="1" height="1"/><rect x="90" y="451" width="1" height="1"/><rect x="94" y="450" width="1" height="2"/><rect x="98" y="450" width="1" height="2"/><rect x="102" y="450" width="1" height="2"/><rect x="106" y="451" width="1" height="1"/><rect x="114" y="451" width="1" height="1"/><rect x="118" y="448" width="1" height="4"/><rect x="130" y="453" width="1" height="1"/><rect x="134" y="453" width="1" height="4"/><rect x="138" y="453" width="1" height="8"/><rect x="142" y="453" width="1" height="10"/><rect x="146" y="453" width="1" height="10"/><rect x="150" y="453" width="1" height="10"/><rect x="154" y="453" width="1" height="7"/><rect x="158" y="453" width="1" height="5"/><rect x="162" y="453" width="1" height="6"/><rect x="166" y="453" width="1" height="7"/><rect x="170" y="453" width="1" height="8"/><rect x="174" y="453" width="1" height="9"/><rect x="178" y="453" width="1" height="8"/><rect x="182" y="453" width="1" height="8"/><rect x="186" y="453" width="1" height="7"/><rect x="190" y="453" width="1" height="8"/><rect x="194" y="453" width="1" height="10"/><rect x="198" y="453" width="1" height="12"/><rect x="202" y="453" width="1" height="16"/><rect x="206" y="453" width="1" height="17"/><rect x="210" y="453" width="1" height="16"/><rect x="214" y="453" width="1" height="12"/><rect x="218" y="453" width="1" height="8"/><rect x="222" y="453" width="1" height="4"/><rect x="226" y="453" width="1" height="5"/><rect x="230" y="453" width="1" height="7"/><rect x="234" y="453" width="1" height="15"/><rect x="238" y="453" width="1" height="28"/><rect x="242" y="453" width="1" height="39"/><rect x="246" y="453" width="1" height="51"/><rect x="250" y="453" width="1" height="73"/><rect x="254" y="453" width="1" height="91"/><rect x="258" y="453" width="1" height="101"/><rect x="262" y="453" width="1" height="110"/><rect x="266" y="453" width="1" height="110"/><rect x="270" y="453" width="1" height="106"/><rect x="274" y="453" width="1" height="94"/><rect x="278" y="453" width="1" height="77"/><rect x="282" y="453" width="1" height="63"/><rect x="286" y="453" width="1" height="52"/><rect x="290" y="453" width="1" height="43"/><rect x="294" y="453" width="1" height="37"/><rect x="298" y="453" width="1" height="33"/><rect x="302" y="453" width="1" height="31"/><rect x="306" y="453" width="1" height="26"/><rect x="310" y="453" width="1" height="21"/><rect x="314" y="453" width="1" height="16"/><rect x="318" y="453" width="1" height="11"/><rect x="322" y="453" width="1" height="6"/><rect x="330" y="448" width="1" height="4"/><rect x="334" y="446" width="1" height="6"/><rect x="338" y="446" width="1" height="6"/><rect x="342" y="446" width="1" height="6"/><rect x="346" y="450" width="1" height="2"/><rect x="350" y="451" width="1" height="1"/><rect x="358" y="453" width="1" height="2"/><rect x="370" y="451" width="1" height="1"/><rect x="374" y="446" width="1" height="6"/><rect x="378" y="445" width="1" height="7"/><rect x="382" y="446" width="1" height="6"/><rect x="386" y="446" width="1" height="6"/><rect x="390" y="450" width="1" height="2"/><rect x="402" y="453" width="1" height="2"/><rect x="406" y="453" width="1" height="5"/><rect x="410" y="453" width="1" height="9"/><rect x="414" y="453" width="1" height="11"/><rect x="418" y="453" width="1" height="16"/><rect x="422" y="453" width="1" height="17"/><rect x="426" y="453" width="1" height="17"/><rect x="430" y="453" width="1" height="17"/><rect x="434" y="453" width="1" height="17"/><rect x="438" y="453" width="1" height="18"/><rect x="442" y="453" width="1" height="18"/><rect x="446" y="453" width="1" height="15"/><rect x="450" y="453" width="1" height="13"/><rect x="454" y="453" width="1" height="11"/><rect x="458" y="453" width="1" height="8"/><rect x="462" y="453" width="1" height="2"/><rect x="466" y="448" width="1" height="4"/><rect x="470" y="443" width="1" height="9"/><rect x="474" y="438" width="1" height="14"/><rect x="478" y="433" width="1" height="19"/><rect x="482" y="428" width="1" height="24"/><rect x="486" y="424" width="1" height="28"/><rect x="490" y="421" width="1" height="31"/><rect x="494" y="422" width="1" height="30"/><rect x="498" y="425" width="1" height="27"/><rect x="502" y="426" width="1" height="26"/><rect x="506" y="428" width="1" height="24"/><rect x="510" y="430" width="1" height="22"/><rect x="514" y="435" width="1" height="17"/><rect x="518" y="442" width="1" height="10"/><rect x="522" y="444" width="1" height="8"/><rect x="526" y="444" width="1" height="8"/><rect x="530" y="447" width="1" height="5"/><rect x="534" y="449" width="1" height="3"/><rect x="542" y="453" width="1" height="5"/><rect x="546" y="453" width="1" height="5"/><rect x="550" y="453" width="1" height="4"/><rect x="554" y="453" width="1" height="3"/><rect x="558" y="453" width="1" height="1"/><rect x="566" y="450" width="1" height="2"/><rect x="570" y="447" width="1" height="5"/><rect x="574" y="445" width="1" height="7"/><rect x="578" y="442" width="1" height="10"/><rect x="582" y="442" width="1" height="10"/><rect x="586" y="443" width="1" height="9"/><rect x="590" y="442" width="1" height="10"/><rect x="594" y="443" width="1" height="9"/><rect x="598" y="444" width="1" height="8"/><rect x="602" y="441" width="1" height="11"/><rect x="606" y="437" width="1" height="15"/><rect x="610" y="435" width="1" height="17"/><rect x="614" y="433" width="1" height="19"/><rect x="618" y="430" width="1" height="22"/><rect x="622" y="427" width="1" height="25"/><rect x="626" y="423" width="1" height="29"/><rect x="630" y="418" width="1" height="34"/><rect x="634" y="413" width="1" height="39"/><rect x="638" y="409" width="1" height="43"/><rect x="642" y="407" width="1" height="45"/><rect x="646" y="406" width="1" height="46"/><rect x="650" y="405" width="1" height="47"/><rect x="654" y="404" width="1" height="48"/><rect x="658" y="405" width="1" height="47"/><rect x="662" y="407" width="1" height="45"/><rect x="666" y="409" width="1" height="43"/><rect x="670" y="412" width="1" height="40"/><rect x="674" y="414" width="1" height="38"/><rect x="678" y="415" width="1" height="37"/><rect x="682" y="416" width="1" height="36"/><rect x="686" y="414" width="1" height="38"/><rect x="690" y="416" width="1" height="36"/><rect x="694" y="415" width="1" height="37"/><rect x="698" y="418" width="1" height="34"/><rect x="702" y="422" width="1" height="30"/><rect x="706" y="422" width="1" height="30"/><rect x="710" y="422" width="1" height="30"/><rect x="714" y="422" width="1" height="30"/><rect x="718" y="420" width="1" height="32"/><rect x="722" y="416" width="1" height="36"/><rect x="726" y="415" width="1" height="37"/><rect x="730" y="414" width="1" height="38"/><rect x="734" y="416" width="1" height="36"/><rect x="738" y="418" width="1" height="34"/><rect x="742" y="423" width="1" height="29"/><rect x="746" y="431" width="1" height="21"/><rect x="750" y="438" width="1" height="14"/><rect x="754" y="448" width="1" height="4"/><rect x="758" y="453" width="1" height="4"/><rect x="762" y="453" width="1" height="9"/><rect x="766" y="453" width="1" height="12"/><rect x="770" y="453" width="1" height="12"/><rect x="774" y="453" width="1" height="12"/><rect x="778" y="453" width="1" height="13"/><rect x="782" y="453" width="1" height="16"/><rect x="786" y="453" width="1" height="20"/><rect x="790" y="453" width="1" height="24"/><rect x="794" y="453" width="1" height="26"/><rect x="798" y="453" width="1" height="27"/><rect x="802" y="453" width="1" height="26"/><rect x="806" y="453" width="1" height="23"/><rect x="810" y="453" width="1" height="20"/><rect x="814" y="453" width="1" height="18"/><rect x="818" y="453" width="1" height="15"/><rect x="822" y="453" width="1" height="12"/><rect x="826" y="453" width="1" height="12"/><rect x="830" y="453" width="1" height="9"/><rect x="834" y="453" width="1" height="8"/><rect x="838" y="453" width="1" height="3"/><rect x="850" y="450" width="1" height="2"/><rect x="870" y="447" width="1" height="5"/><rect x="874" y="445" width="1" height="7"/><rect x="878" y="444" width="1" height="8"/><rect x="882" y="444" width="1" height="8"/><rect x="886" y="444" width="1" height="8"/><rect x="890" y="443" width="1" height="9"/></g>
<g id="sig" fill="#ff0000"><rect x="3" y="423" width="1" height="1"/><rect x="4" y="423" width="1" height="1"/><rect x="8" y="424" width="1" height="1"/><rect x="9" y="425" width="1" height="1"/><rect x="10" y="425" width="1" height="1"/><rect x="14" y="427" width="1" height="1"/><rect x="15" y="428" width="1" height="1"/><rect x="16" y="429" width="1" height="1"/><rect x="20" y="431" width="1" height="1"/><rect x="21" y="432" width="1" height="1"/><rect x="22" y="433" width="1" height="1"/><rect x="26" y="436" width="1" height="1"/><rect x="27" y="436" width="1" height="1"/><rect x="28" y="437" width="1" height="1"/><rect x="32" y="439" width="1" height="1"/><rect x="33" y="439" width="1" height="1"/><rect x="34" y="440" width="1" height="1"/><rect x="38" y="441" width="1" height="1"/><rect x="39" y="441" width="1" height="1"/><rect x="40" y="441" width="1" height="1"/><rect x="44" y="442" width="1" height="1"/><rect x="45" y="442" width="1" height="1"/><rect x="46" y="442" width="1" height="1"/><rect x="50" y="442" width="1" height="1"/><rect x="51" y="442" width="1" height="1"/><rect x="52" y="442" width="1" height="1"/><rect x="56" y="442" width="1" height="1"/><rect x="57" y="442" width="1" height="1"/><rect x="58" y="442" width="1" height="1"/><rect x="62" y="442" width="1" height="1"/><rect x="63" y="442" width="1" height="1"/><rect x="64" y="443" width="1" height="1"/><rect x="68" y="444" width="1" height="1"/><rect x="69" y="444" width="1" height="1"/><rect x="70" y="445" width="1" height="1"/><rect x="74" y="446" width="1" height="1"/><rect x="75" y="446" width="1" height="1"/><rect x="76" y="446" width="1" height="1"/><rect x="80" y="448" width="1" height="1"/><rect x="81" y="448" width="1" height="1"/><rect x="82" y="448" width="1" height="1"/><rect x="86" y="450" width="1" height="1"/><rect x="87" y="450" width="1" height="1"/><rect x="88" y="450" width="1" height="1"/><rect x="92" y="451" width="1" height="1"/><rect x="93" y="451" width="1" height="1"/><rect x="94" y="451" width="1" height="1"/><rect x="98" y="451" width="1" height="1"/><rect x="99" y="451" width="1" height="1"/><rect x="100" y="451" width="1" height="1"/><rect x="104" y="451" width="1" height="1"/><rect x="105" y="451" width="1" height="1"/><rect x="106" y="451" width="1" height="1"/><rect x="110" y="451" width="1" height="1"/><rect x="111" y="451" width="1" height="1"/><rect x="112" y="451" width="1" height="1"/><rect x="116" y="451" width="1" height="1"/><rect x="117" y="451" width="1" height="1"/><rect x="118" y="451" width="1" height="1"/><rect x="122" y="451" width="1" height="1"/><rect x="123" y="451" width="1" height="1"/><rect x="124" y="451" width="1" height="1"/><rect x="128" y="451" width="1" height="1"/><rect x="129" y="451" width="1" height="1"/><rect x="130" y="451" width="1" height="1"/><rect x="134" y="452" width="1" height="1"/><rect x="135" y="452" width="1" height="1"/><rect x="136" y="452" width="1" height="1"/><rect x="140" y="453" width="1" height="1"/><rect x="141" y="453" width="1" height="1"/><rect x="142" y="454" width="1" height="1"/><rect x="146" y="455" width="1" height="1"/><rect x="147" y="455" width="1" height="1"/><rect x="148" y="455" width="1" height="1"/><rect x="152" y="457" width="1" height="1"/><rect x="153" y="457" width="1" height="1"/><rect x="154" y="457" width="1" height="1"/><rect x="158" y="458" width="1" height="1"/><rect x="159" y="458" width="1" height="1"/><rect x="160" y="458" width="1" height="1"/><rect x="164" y="459" width="1" height="1"/><rect x="165" y="459" width="1" height="1"/><rect x="166" y="459" width="1" height="1"/><rect x="170" y="460" width="1" height="1"/><rect x="171" y="460" width="1" height="1"/><rect x="172" y="460" width="1" height="1"/><rect x="176" y="460" width="1" height="1"/><rect x="177" y="460" width="1" height="1"/><rect x="178" y="460" width="1" height="1"/><rect x="182" y="460" width="1" height="1"/><rect x="183" y="460" width="1" height="1"/><rect x="184" y="460" width="1" height="1"/><rect x="188" y="459" width="1" height="1"/><rect x="189" y="459" width="1" height="1"/><rect x="190" y="459" width="1" height="1"/><rect x="194" y="460" width="1" height="1"/><rect x="195" y="460" width="1" height="1"/><rect x="196" y="460" width="1" height="1"/><rect x="200" y="461" width="1" height="1"/><rect x="201" y="462" width="1" height="1"/><rect x="202" y="462" width="1" height="1"/><rect x="206" y="463" width="1" height="1"/><rect x="207" y="463" width="1" height="1"/><rect x="208" y="463" width="1" height="1"/><rect x="212" y="464" width="1" height="1"/><rect x="213" y="464" width="1" height="1"/><rect x="214" y="464" width="1" height="1"/><rect x="218" y="464" width="1" height="1"/><rect x="219" y="464" width="1" height="1"/><rect x="220" y="464" width="1" height="1"/><rect x="224" y="463" width="1" height="1"/><rect x="225" y="463" width="1" height="1"/><rect x="226" y="463" width="1" height="1"/><rect x="230" y="463" width="1" height="1"/><rect x="231" y="463" width="1" height="1"/><rect x="232" y="463" width="1" height="1"/><rect x="236" y="464" width="1" height="1"/><rect x="237" y="464" width="1" height="1"/><rect x="238" y="465" width="1" height="1"/><rect x="242" y="467" width="1" height="1"/><rect x="243" y="468" width="1" height="1"/><rect x="244" y="469" width="1" height="1"/><rect x="247" y="473" width="1" height="1"/><rect x="248" y="474" width="1" height="1"/><rect x="248" y="475" width="1" height="1"/><rect x="250" y="479" width="1" height="1"/><rect x="251" y="480" width="1" height="1"/><rect x="251" y="481" width="1" height="1"/><rect x="253" y="485" width="1" height="1"/><rect x="254" y="486" width="1" height="1"/><rect x="254" y="487" width="1" height="1"/><rect x="255" y="491" width="1" height="1"/><rect x="256" y="492" width="1" height="1"/><rect x="256" y="493" width="1" height="1"/><rect x="258" y="497" width="1" height="1"/><rect x="258" y="498" width="1" height="1"/><rect x="259" y="499" width="1" height="1"/><rect x="260" y="503" width="1" height="1"/><rect x="260" y="504" width="1" height="1"/><rect x="261" y="505" width="1" height="1"/><rect x="262" y="509" width="1" height="1"/><rect x="263" y="510" width="1" height="1"/><rect x="263" y="511" width="1" height="1"/><rect x="264" y="515" width="1" height="1"/><rect x="264" y="516" width="1" height="1"/><rect x="265" y="517" width="1" height="1"/><rect x="266" y="521" width="1" height="1"/><rect x="267" y="522" width="1" height="1"/><rect x="267" y="523" width="1" height="1"/><rect x="269" y="527" width="1" height="1"/><rect x="269" y="528" width="1" height="1"/><rect x="269" y="529" width="1" height="1"/><rect x="271" y="533" width="1" height="1"/><rect x="272" y="534" width="1" height="1"/><rect x="272" y="535" width="1" height="1"/><rect x="275" y="539" width="1" height="1"/><rect x="276" y="540" width="1" height="1"/><rect x="277" y="541" width="1" height="1"/><rect x="281" y="543" width="1" height="1"/><rect x="282" y="544" width="1" height="1"/><rect x="283" y="543" width="1" height="1"/><rect x="287" y="539" width="1" height="1"/><rect x="288" y="538" width="1" height="1"/><rect x="289" y="537" width="1" height="1"/><rect x="292" y="533" width="1" height="1"/><rect x="292" y="532" width="1" height="1"/><rect x="293" y="531" width="1" height="1"/><rect x="295" y="527" width="1" height="1"/><rect x="295" y="526" width="1" height="1"/><rect x="296" y="525" width="1" height="1"/><rect x="298" y="521" width="1" height="1"/><rect x="298" y="520" width="1" height="1"/><rect x="299" y="519" width="1" height="1"/><rect x="300" y="515" width="1" height="1"/><rect x="301" y="514" width="1" height="1"/><rect x="301" y="513" width="1" height="1"/><rect x="303" y="509" width="1" height="1"/><rect x="303" y="508" width="1" height="1"/><rect x="304" y="507" width="1" height="1"/><rect x="306" y="503" width="1" height="1"/><rect x="306" y="502" width="1" height="1"/><rect x="307" y="501" width="1" height="1"/><rect x="309" y="497" width="1" height="1"/><rect x="309" y="496" width="1" height="1"/><rect x="310" y="495" width="1" height="1"/><rect x="312" y="491" width="1" height="1"/><rect x="312" y="490" width="1" height="1"/><rect x="313" y="489" width="1" height="1"/><rect x="316" y="485" width="1" height="1"/><rect x="316" y="484" width="1" height="1"/><rect x="317" y="483" width="1" height="1"/><rect x="321" y="479" width="1" height="1"/><rect x="321" y="478" width="1" height="1"/><rect x="322" y="477" width="1" height="1"/><rect x="325" y="473" width="1" height="1"/><rect x="326" y="472" width="1" height="1"/><rect x="327" y="471" width="1" height="1"/><rect x="331" y="467" width="1" height="1"/><rect x="332" y="466" width="1" height="1"/><rect x="333" y="465" width="1" height="1"/><rect x="336" y="461" width="1" height="1"/><rect x="337" y="460" width="1" height="1"/><rect x="338" y="459" width="1" height="1"/><rect x="342" y="455" width="1" height="1"/><rect x="343" y="455" width="1" height="1"/><rect x="344" y="454" width="1" height="1"/><rect x="348" y="452" width="1" height="1"/><rect x="349" y="451" width="1" height="1"/><rect x="350" y="451" width="1" height="1"/><rect x="353" y="450" width="1" height="1"/><rect x="354" y="450" width="1" height="1"/><rect x="355" y="450" width="1" height="1"/><rect x="359" y="450" width="1" height="1"/><rect x="360" y="450" width="1" height="1"/><rect x="361" y="450" width="1" height="1"/><rect x="365" y="450" width="1" height="1"/><rect x="366" y="450" width="1" height="1"/><rect x="367" y="450" width="1" height="1"/><rect x="371" y="451" width="1" height="1"/><rect x="372" y="451" width="1" height="1"/><rect x="373" y="451" width="1" height="1"/><rect x="377" y="451" width="1" height="1"/><rect x="378" y="451" width="1" height="1"/><rect x="379" y="451" width="1" height="1"/><rect x="383" y="449" width="1" height="1"/><rect x="384" y="449" width="1" height="1"/><rect x="385" y="449" width="1" height="1"/><rect x="389" y="449" width="1" height="1"/><rect x="390" y="449" width="1" height="1"/><rect x="391" y="449" width="1" height="1"/><rect x="395" y="449" width="1" height="1"/><rect x="396" y="449" width="1" height="1"/><rect x="397" y="449" width="1" height="1"/><rect x="401" y="449" width="1" height="1"/><rect x="402" y="449" width="1" height="1"/><rect x="403" y="449" width="1" height="1"/><rect x="407" y="450" width="1" height="1"/><rect x="408" y="450" width="1" height="1"/><rect x="409" y="451" width="1" height="1"/><rect x="413" y="453" width="1" height="1"/><rect x="414" y="453" width="1" height="1"/><rect x="415" y="454" width="1" height="1"/><rect x="419" y="456" width="1" height="1"/><rect x="420" y="457" width="1" height="1"/><rect x="421" y="457" width="1" height="1"/><rect x="425" y="459" width="1" height="1"/><rect x="426" y="460" width="1" height="1"/><rect x="427" y="460" width="1" height="1"/><rect x="431" y="462" width="1" height="1"/><rect x="432" y="463" width="1" height="1"/><rect x="433" y="463" width="1" height="1"/><rect x="437" y="465" width="1" height="1"/><rect x="438" y="466" width="1" height="1"/><rect x="439" y="466" width="1" height="1"/><rect x="443" y="468" width="1" height="1"/><rect x="444" y="468" width="1" height="1"/><rect x="445" y="468" width="1" height="1"/><rect x="449" y="468" width="1" height="1"/><rect x="450" y="468" width="1" height="1"/><rect x="451" y="468" width="1" height="1"/><rect x="455" y="467" width="1" height="1"/><rect x="456" y="467" width="1" height="1"/><rect x="457" y="467" width="1" height="1"/><rect x="461" y="465" width="1" height="1"/><rect x="462" y="465" width="1" height="1"/><rect x="463" y="464" width="1" height="1"/><rect x="467" y="462" width="1" height="1"/><rect x="468" y="461" width="1" height="1"/><rect x="469" y="460" width="1" height="1"/><rect x="473" y="457" width="1" height="1"/><rect x="474" y="456" width="1" height="1"/><rect x="475" y="455" width="1" height="1"/><rect x="479" y="451" width="1" height="1"/><rect x="480" y="450" width="1" height="1"/><rect x="481" y="449" width="1" height="1"/><rect x="485" y="445" width="1" height="1"/><rect x="486" y="444" width="1" height="1"/><rect x="487" y="443" width="1" height="1"/><rect x="490" y="439" width="1" height="1"/><rect x="491" y="438" width="1" height="1"/><rect x="492" y="437" width="1" height="1"/><rect x="496" y="433" width="1" height="1"/><rect x="497" y="432" width="1" height="1"/><rect x="498" y="431" width="1" height="1"/><rect x="502" y="429" width="1" height="1"/><rect x="503" y="428" width="1" height="1"/><rect x="504" y="428" width="1" height="1"/><rect x="508" y="427" width="1" height="1"/><rect x="509" y="427" width="1" height="1"/><rect x="510" y="427" width="1" height="1"/><rect x="514" y="427" width="1" height="1"/><rect x="515" y="427" width="1" height="1"/><rect x="516" y="428" width="1" height="1"/><rect x="520" y="429" width="1" height="1"/><rect x="521" y="429" width="1" height="1"/><rect x="522" y="430" width="1" height="1"/><rect x="526" y="433" width="1" height="1"/><rect x="527" y="434" width="1" height="1"/><rect x="528" y="434" width="1" height="1"/><rect x="532" y="437" width="1" height="1"/><rect x="533" y="437" width="1" height="1"/><rect x="534" y="438" width="1" height="1"/><rect x="538" y="441" width="1" height="1"/><rect x="539" y="442" width="1" height="1"/><rect x="540" y="443" width="1" height="1"/><rect x="544" y="446" width="1" height="1"/><rect x="545" y="446" width="1" height="1"/><rect x="546" y="447" width="1" height="1"/><rect x="550" y="450" width="1" height="1"/><rect x="551" y="450" width="1" height="1"/><rect x="552" y="450" width="1" height="1"/><rect x="556" y="452" width="1" height="1"/><rect x="557" y="452" width="1" height="1"/><rect x="558" y="452" width="1" height="1"/><rect x="562" y="453" width="1" height="1"/><rect x="563" y="453" width="1" height="1"/><rect x="564" y="453" width="1" height="1"/><rect x="568" y="454" width="1" height="1"/><rect x="569" y="454" width="1" height="1"/><rect x="570" y="453" width="1" height="1"/><rect x="574" y="453" width="1" height="1"/><rect x="575" y="452" width="1" height="1"/><rect x="576" y="452" width="1" height="1"/><rect x="580" y="450" width="1" height="1"/><rect x="581" y="449" width="1" height="1"/><rect x="582" y="449" width="1" height="1"/><rect x="585" y="448" width="1" height="1"/><rect x="586" y="447" width="1" height="1"/><rect x="587" y="447" width="1" height="1"/><rect x="591" y="445" width="1" height="1"/><rect x="592" y="445" width="1" height="1"/><rect x="593" y="445" width="1" height="1"/><rect x="597" y="444" width="1" height="1"/><rect x="598" y="444" width="1" height="1"/><rect x="599" y="444" width="1" height="1"/><rect x="603" y="442" width="1" height="1"/><rect x="604" y="442" width="1" height="1"/><rect x="605" y="442" width="1" height="1"/><rect x="609" y="441" width="1" height="1"/><rect x="610" y="441" width="1" height="1"/><rect x="611" y="441" width="1" height="1"/><rect x="615" y="439" width="1" height="1"/><rect x="616" y="439" width="1" height="1"/><rect x="617" y="438" width="1" height="1"/><rect x="621" y="437" width="1" height="1"/><rect x="622" y="436" width="1" height="1"/><rect x="623" y="436" width="1" height="1"/><rect x="627" y="434" width="1" height="1"/><rect x="628" y="433" width="1" height="1"/><rect x="629" y="432" width="1" height="1"/><rect x="633" y="429" width="1" height="1"/><rect x="634" y="429" width="1" height="1"/><rect x="635" y="428" width="1" height="1"/><rect x="639" y="424" width="1" height="1"/><rect x="640" y="423" width="1" height="1"/><rect x="641" y="423" width="1" height="1"/><rect x="645" y="419" width="1" height="1"/><rect x="646" y="419" width="1" height="1"/><rect x="647" y="418" width="1" height="1"/><rect x="651" y="414" width="1" height="1"/><rect x="652" y="413" width="1" height="1"/><rect x="653" y="413" width="1" height="1"/><rect x="657" y="410" width="1" height="1"/><rect x="658" y="410" width="1" height="1"/><rect x="659" y="409" width="1" height="1"/><rect x="663" y="408" width="1" height="1"/><rect x="664" y="407" width="1" height="1"/><rect x="665" y="407" width="1" height="1"/><rect x="669" y="407" width="1" height="1"/><rect x="670" y="407" width="1" height="1"/><rect x="671" y="407" width="1" height="1"/><rect x="675" y="408" width="1" height="1"/><rect x="676" y="408" width="1" height="1"/><rect x="677" y="408" width="1" height="1"/><rect x="681" y="409" width="1" height="1"/><rect x="682" y="410" width="1" height="1"/><rect x="683" y="410" width="1" height="1"/><rect x="687" y="411" width="1" height="1"/><rect x="688" y="411" width="1" height="1"/><rect x="689" y="411" width="1" height="1"/><rect x="693" y="413" width="1" height="1"/><rect x="694" y="413" width="1" height="1"/><rect x="695" y="413" width="1" height="1"/><rect x="699" y="414" width="1" height="1"/><rect x="700" y="415" width="1" height="1"/><rect x="701" y="415" width="1" height="1"/><rect x="705" y="416" width="1" height="1"/><rect x="706" y="417" width="1" height="1"/><rect x="707" y="417" width="1" height="1"/><rect x="711" y="418" width="1" height="1"/><rect x="712" y="418" width="1" height="1"/><rect x="713" y="418" width="1" height="1"/><rect x="717" y="419" width="1" height="1"/><rect x="718" y="419" width="1" height="1"/><rect x="719" y="419" width="1" height="1"/><rect x="723" y="419" width="1" height="1"/><rect x="724" y="419" width="1" height="1"/><rect x="725" y="419" width="1" height="1"/><rect x="729" y="419" width="1" height="1"/><rect x="730" y="419" width="1" height="1"/><rect x="731" y="419" width="1" height="1"/><rect x="735" y="418" width="1" height="1"/><rect x="736" y="418" width="1" height="1"/><rect x="737" y="418" width="1" height="1"/><rect x="741" y="418" width="1" height="1"/><rect x="742" y="418" width="1" height="1"/><rect x="743" y="418" width="1" height="1"/><rect x="747" y="419" width="1" height="1"/><rect x="748" y="419" width="1" height="1"/><rect x="749" y="420" width="1" height="1"/><rect x="753" y="423" width="1" height="1"/><rect x="754" y="424" width="1" height="1"/><rect x="755" y="425" width="1" height="1"/><rect x="758" y="429" width="1" height="1"/><rect x="759" y="430" width="1" height="1"/><rect x="760" y="431" width="1" height="1"/><rect x="763" y="435" width="1" height="1"/><rect x="764" y="436" width="1" height="1"/><rect x="764" y="437" width="1" height="1"/><rect x="767" y="441" width="1" height="1"/><rect x="768" y="442" width="1" height="1"/><rect x="769" y="443" width="1" height="1"/><rect x="772" y="447" width="1" height="1"/><rect x="773" y="448" width="1" height="1"/><rect x="773" y="449" width="1" height="1"/><rect x="777" y="453" width="1" height="1"/><rect x="778" y="454" width="1" height="1"/><rect x="779" y="455" width="1" height="1"/><rect x="782" y="459" width="1" height="1"/><rect x="783" y="460" width="1" height="1"/><rect x="784" y="461" width="1" height="1"/><rect x="788" y="464" width="1" height="1"/><rect x="789" y="465" width="1" height="1"/><rect x="790" y="465" width="1" height="1"/><rect x="794" y="468" width="1" height="1"/><rect x="795" y="468" width="1" height="1"/><rect x="796" y="469" width="1" height="1"/><rect x="800" y="471" width="1" height="1"/><rect x="801" y="472" width="1" height="1"/><rect x="802" y="472" width="1" height="1"/><rect x="806" y="473" width="1" height="1"/><rect x="807" y="473" width="1" height="1"/><rect x="808" y="473" width="1" height="1"/><rect x="812" y="474" width="1" height="1"/><rect x="813" y="474" width="1" height="1"/><rect x="814" y="474" width="1" height="1"/><rect x="818" y="474" width="1" height="1"/><rect x="819" y="473" width="1" height="1"/><rect x="820" y="473" width="1" height="1"/><rect x="824" y="472" width="1" height="1"/><rect x="825" y="472" width="1" height="1"/><rect x="826" y="472" width="1" height="1"/><rect x="830" y="470" width="1" height="1"/><rect x="831" y="469" width="1" height="1"/><rect x="832" y="468" width="1" height="1"/><rect x="836" y="466" width="1" height="1"/><rect x="837" y="466" width="1" height="1"/><rect x="838" y="465" width="1" height="1"/><rect x="842" y="462" width="1" height="1"/><rect x="843" y="462" width="1" height="1"/><rect x="844" y="461" width="1" height="1"/><rect x="848" y="459" width="1" height="1"/><rect x="849" y="458" width="1" height="1"/><rect x="850" y="458" width="1" height="1"/><rect x="854" y="456" width="1" height="1"/><rect x="855" y="455" width="1" height="1"/><rect x="856" y="455" width="1" height="1"/><rect x="860" y="454" width="1" height="1"/><rect x="861" y="454" width="1" height="1"/><rect x="862" y="454" width="1" height="1"/><rect x="866" y="453" width="1" height="1"/><rect x="867" y="453" width="1" height="1"/><rect x="868" y="453" width="1" height="1"/><rect x="872" y="451" width="1" height="1"/><rect x="873" y="451" width="1" height="1"/><rect x="874" y="451" width="1" height="1"/><rect x="878" y="450" width="1" height="1"/><rect x="879" y="450" width="1" height="1"/><rect x="880" y="449" width="1" height="1"/><rect x="884" y="448" width="1" height="1"/><rect x="885" y="448" width="1" height="1"/><rect x="886" y="448" width="1" height="1"/></g>
<g fill="#000"><rect x="2" y="2" width="896" height="1"/><rect x="2" y="385" width="896" height="1"/><rect x="2" y="2" width="1" height="384"/><rect x="897" y="2" width="1" height="384"/><rect x="2" y="387" width="896" height="1"/><rect x="2" y="579" width="896" height="1"/><rect x="2" y="387" width="1" height="193"/><rect x="897" y="387" width="1" height="193"/><rect x="898" y="33" width="4" height="1"/><rect x="898" y="65" width="4" height="1"/><rect x="898" y="97" width="4" height="1"/><rect x="898" y="129" width="4" height="1"/><rect x="898" y="161" width="4" height="1"/><rect x="898" y="193" width="4" height="1"/><rect x="898" y="225" width="4" height="1"/><rect x="898" y="257" width="4" height="1"/><rect x="898" y="289" width="4" height="1"/><rect x="898" y="321" width="4" height="1"/><rect x="898" y="353" width="4" height="1"/><rect x="898" y="388" width="4" height="1"/><rect x="898" y="578" width="4" height="1"/><rect x="2" y="580" width="1" height="3"/><rect x="66" y="580" width="1" height="3"/><rect x="130" y="580" width="1" height="3"/><rect x="194" y="580" width="1" height="3"/><rect x="258" y="580" width="1" height="3"/><rect x="322" y="580" width="1" height="3"/><rect x="386" y="580" width="1" height="3"/><rect x="450" y="580" width="1" height="3"/><rect x="514" y="580" width="1" height="3"/><rect x="578" y="580" width="1" height="3"/><rect x="642" y="580" width="1" height="3"/><rect x="706" y="580" width="1" height="3"/><rect x="770" y="580" width="1" height="3"/><rect x="834" y="580" width="1" height="3"/></g>
<text x="903.4" y="37" textLength="31.83" lengthAdjust="spacingAndGlyphs">1.33770</text><text x="903.4" y="69" textLength="31.83" lengthAdjust="spacingAndGlyphs">1.31950</text><text x="903.4" y="101" textLength="31.83" lengthAdjust="spacingAndGlyphs">1.30130</text><text x="903.4" y="133" textLength="31.83" lengthAdjust="spacingAndGlyphs">1.28310</text><text x="903.4" y="165" textLength="31.83" lengthAdjust="spacingAndGlyphs">1.26490</text><text x="903.4" y="197" textLength="31.83" lengthAdjust="spacingAndGlyphs">1.24670</text><text x="903.4" y="229" textLength="31.83" lengthAdjust="spacingAndGlyphs">1.22850</text><text x="903.4" y="261" textLength="31.83" lengthAdjust="spacingAndGlyphs">1.21030</text><text x="903.4" y="293" textLength="31.83" lengthAdjust="spacingAndGlyphs">1.19210</text><text x="903.4" y="325" textLength="31.83" lengthAdjust="spacingAndGlyphs">1.17390</text><text x="903.4" y="357" textLength="31.83" lengthAdjust="spacingAndGlyphs">1.15570</text><rect x="900" y="83" width="39" height="11" fill="#c0c0c0"/><text x="903.4" y="92" textLength="31.16" lengthAdjust="spacingAndGlyphs" style="fill:#fff;stroke:#fff">1.30611</text><rect x="900" y="121" width="39" height="11" fill="#0000ff"/><text x="903.4" y="130" textLength="31.83" lengthAdjust="spacingAndGlyphs" style="fill:#fff;stroke:#fff">1.28485</text><text x="902.6" y="396" textLength="38.60" lengthAdjust="spacingAndGlyphs">0.021244</text><text x="902.6" y="455" textLength="38.20" lengthAdjust="spacingAndGlyphs">0.000000</text><text x="903" y="577" textLength="40.53" lengthAdjust="spacingAndGlyphs">-0.041317</text><text x="2.6" y="592" textLength="51.03" lengthAdjust="spacingAndGlyphs">19 Dec 2019</text><text x="66.6" y="592" textLength="48.54" lengthAdjust="spacingAndGlyphs">14 Jan 2020</text><text x="129.8" y="592" textLength="47.53" lengthAdjust="spacingAndGlyphs">5 Feb 2020</text><text x="193.8" y="592" textLength="51.53" lengthAdjust="spacingAndGlyphs">27 Feb 2020</text><text x="257.8" y="592" textLength="51.53" lengthAdjust="spacingAndGlyphs">20 Mar 2020</text><text x="322.6" y="592" textLength="50.54" lengthAdjust="spacingAndGlyphs">13 Apr 2020</text><text x="385.8" y="592" textLength="49.23" lengthAdjust="spacingAndGlyphs">5 May 2020</text><text x="449.8" y="592" textLength="55.23" lengthAdjust="spacingAndGlyphs">27 May 2020</text><text x="514.6" y="592" textLength="48.54" lengthAdjust="spacingAndGlyphs">18 Jun 2020</text><text x="578.6" y="592" textLength="45.53" lengthAdjust="spacingAndGlyphs">10 Jul 2020</text><text x="641.8" y="592" textLength="48.54" lengthAdjust="spacingAndGlyphs">3 Aug 2020</text><text x="705.8" y="592" textLength="52.54" lengthAdjust="spacingAndGlyphs">25 Aug 2020</text><text x="770.6" y="592" textLength="50.84" lengthAdjust="spacingAndGlyphs">16 Sep 2020</text><text x="833.8" y="592" textLength="46.22" lengthAdjust="spacingAndGlyphs">8 Oct 2020</text><text x="6.5" y="13" textLength="63.50" lengthAdjust="spacingAndGlyphs">GBPUSD,Daily</text><text x="5.6" y="400" textLength="66.00" lengthAdjust="spacingAndGlyphs">MACD(12,26,9)</text><text x="74.6" y="400" textLength="37.30" lengthAdjust="spacingAndGlyphs">0.002941</text><text x="115.8" y="400" textLength="37.30" lengthAdjust="spacingAndGlyphs">0.001607</text><path d="M873 132 H882 V147 H886.6 L877.5 156.4 L868.4 147 H873 Z" fill="#fff" stroke="#ff0000" stroke-width="2" stroke-linejoin="miter" shape-rendering="geometricPrecision"/></svg></body></html>
